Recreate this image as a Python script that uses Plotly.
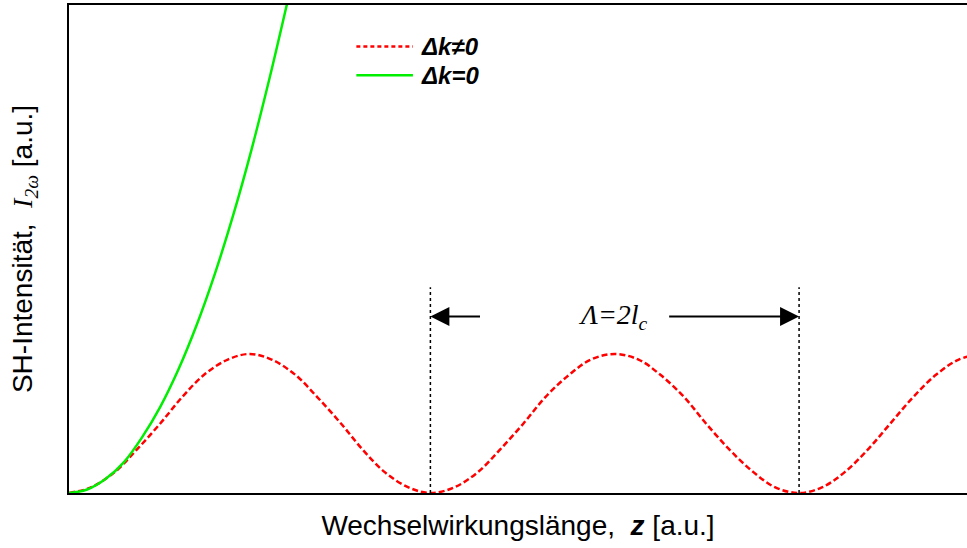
import plotly.graph_objects as go

# Interaction length z in units of the coherence length l_c
z_mismatch = [0, 0.12, 0.25, 0.37, 0.50, 0.62, 0.74, 0.87, 0.99,
              1.11, 1.24, 1.36, 1.49, 1.61, 1.73, 1.86, 1.98,
              2.11, 2.24, 2.36, 2.49, 2.61, 2.74, 2.86, 2.99,
              3.12, 3.24, 3.37, 3.49, 3.62, 3.75, 3.87, 4.0,
              4.125, 4.25, 4.375, 4.5, 4.625, 4.75, 4.875, 5.0]
# SH intensity with phase mismatch (oscillates between 0 and 1)
i_mismatch = [0, 0.04, 0.15, 0.31, 0.50, 0.69, 0.85, 0.96, 1.0,
              0.96, 0.85, 0.69, 0.50, 0.31, 0.15, 0.04, 0,
              0.04, 0.15, 0.31, 0.50, 0.69, 0.85, 0.96, 1.0,
              0.96, 0.85, 0.69, 0.50, 0.31, 0.15, 0.04, 0,
              0.04, 0.15, 0.31, 0.50, 0.69, 0.85, 0.96, 1.0]

# Phase-matched case: quadratic growth
z_matched = [0, 0.1, 0.2, 0.3, 0.4, 0.5, 0.6, 0.7, 0.8, 0.9, 1.0, 1.1, 1.2]
i_matched = [0, 0.025, 0.10, 0.22, 0.40, 0.62, 0.89, 1.21, 1.58, 2.0, 2.47, 2.99, 3.55]

series_names = ["<b><i>Δk≠0</i></b>", "<b><i>Δk=0</i></b>"]
series_colors = ["#ff0000", "#00ee00"]

# Period marker Λ = 2 l_c between two zeros
period_start = 1.98
period_end = 4.0
marker_top = 1.48
arrow_level = 1.27
left_tail = 2.26
right_tail = 3.28
label_center = 2.98

x_range = [0, 4.92]
y_range = [0, 3.51]

fig = go.Figure()

fig.add_trace(go.Scatter(
    x=z_mismatch, y=i_mismatch, mode="lines", line_shape="spline",
    name=series_names[0], showlegend=False,
    line=dict(color=series_colors[0], width=2.5, dash="6px,3px"),
))
fig.add_trace(go.Scatter(
    x=z_matched, y=i_matched, mode="lines", line_shape="spline",
    name=series_names[1], showlegend=False,
    line=dict(color=series_colors[1], width=2.5),
))

# legend keys drawn in paper coordinates
legend_dash = ["4px,3px", "solid"]
legend_rows = [0.915, 0.856]
for name, color, dash, yrow in zip(series_names, series_colors, legend_dash, legend_rows):
    fig.add_shape(type="line", xref="paper", yref="paper",
                  x0=0.32, x1=0.383, y0=yrow, y1=yrow,
                  line=dict(color=color, width=2.5, dash=dash))
    fig.add_annotation(xref="paper", yref="paper", x=0.39, y=yrow,
                       xanchor="left", yanchor="middle", showarrow=False,
                       text=name,
                       font=dict(family="Liberation Sans", size=24, color="black"))

# dotted vertical markers at the two zeros
for xv in (period_start, period_end):
    fig.add_shape(type="line", x0=xv, x1=xv, y0=0, y1=marker_top,
                  xref="x", yref="y",
                  line=dict(color="black", width=1.5, dash="dot"))

# arrows pointing out from the label to the markers
fig.add_annotation(x=period_start, y=arrow_level, ax=left_tail, ay=arrow_level,
                   xref="x", yref="y", axref="x", ayref="y", text="",
                   showarrow=True, arrowhead=2, arrowsize=1.9, arrowwidth=2,
                   arrowcolor="black")
fig.add_annotation(x=period_end, y=arrow_level, ax=right_tail, ay=arrow_level,
                   xref="x", yref="y", axref="x", ayref="y", text="",
                   showarrow=True, arrowhead=2, arrowsize=1.9, arrowwidth=2,
                   arrowcolor="black")
fig.add_annotation(x=label_center, y=arrow_level, xref="x", yref="y",
                   text="<i>Λ=2l<sub>c</sub></i>", showarrow=False,
                   font=dict(family="Liberation Serif", size=28, color="black"))

fig.update_layout(
    width=967, height=548,
    margin=dict(l=69, r=0, t=5, b=55),
    paper_bgcolor="white", plot_bgcolor="white",
    showlegend=False,
    xaxis=dict(range=x_range, showgrid=False, zeroline=False,
               showticklabels=False, ticks="", showline=True,
               linecolor="black", linewidth=2, mirror=True,
               title=dict(text="Wechselwirkungslänge,  <i><b>z</b></i> [a.u.]",
                          font=dict(family="Liberation Sans", size=28, color="black"),
                          standoff=21)),
    yaxis=dict(range=y_range, showgrid=False, zeroline=False,
               showticklabels=False, ticks="", showline=True,
               linecolor="black", linewidth=2,
               title=dict(text="SH-Intensität,  <span style='font-family:Liberation Serif'><i>I</i><sub><i>2ω</i></sub></span> [a.u.]",
                          font=dict(family="Liberation Sans", size=28, color="black"),
                          standoff=26)),
)

fig.write_html("out.html")
